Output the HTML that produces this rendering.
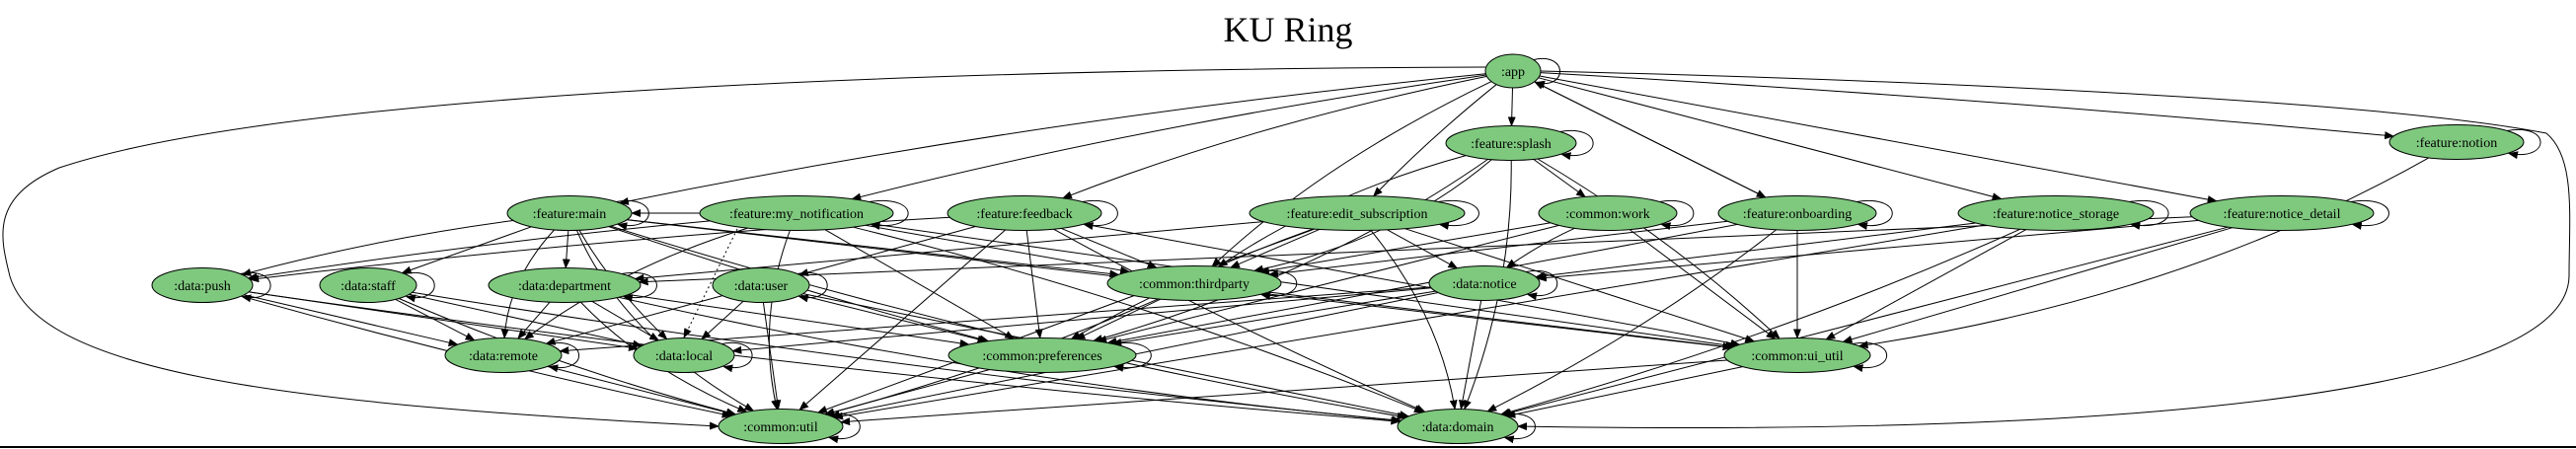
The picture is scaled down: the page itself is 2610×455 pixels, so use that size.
<!DOCTYPE html>
<html><head><meta charset="utf-8"><style>
html,body{margin:0;padding:0;background:#fff;}
svg{display:block;}
text{font-family:"Liberation Serif",serif;}
</style></head><body>
<svg id="s" width="2610" height="455" viewBox="0 0 2610 455" xmlns="http://www.w3.org/2000/svg">
<defs><marker id="a" markerWidth="10" markerHeight="8" refX="9" refY="4" orient="auto" markerUnits="userSpaceOnUse"><path d="M0,0 L10,4 L0,8 z" fill="#000"/></marker></defs>
<rect width="2610" height="455" fill="#fff"/>
<text x="1305" y="42" font-size="36" text-anchor="middle">KU Ring</text>
<g id="edges" fill="none" stroke="#000" stroke-width="1"></g>
<g id="nodes" fill="#7fc97f" stroke="#000" stroke-width="1">
<ellipse cx="1533" cy="72" rx="28" ry="17"/>
<ellipse cx="1531" cy="145" rx="66" ry="17.5"/>
<ellipse cx="577" cy="216" rx="63" ry="17.5"/>
<ellipse cx="807" cy="216" rx="98" ry="17.5"/>
<ellipse cx="1038" cy="216" rx="78" ry="17.5"/>
<ellipse cx="1375" cy="216" rx="109" ry="17.5"/>
<ellipse cx="1629" cy="216" rx="70" ry="17.5"/>
<ellipse cx="1821" cy="216" rx="80" ry="17.5"/>
<ellipse cx="2083" cy="216" rx="99" ry="17.5"/>
<ellipse cx="2312" cy="216" rx="93" ry="17.5"/>
<ellipse cx="2489" cy="144" rx="68" ry="17.5"/>
<ellipse cx="205" cy="289" rx="51" ry="17.5"/>
<ellipse cx="373" cy="289" rx="49" ry="17.5"/>
<ellipse cx="572" cy="289" rx="77" ry="17.5"/>
<ellipse cx="771" cy="289" rx="49" ry="17.5"/>
<ellipse cx="1210" cy="287" rx="88" ry="17.5"/>
<ellipse cx="1504" cy="287" rx="56" ry="17.5"/>
<ellipse cx="510" cy="360" rx="59" ry="17.5"/>
<ellipse cx="693" cy="360" rx="51" ry="17.5"/>
<ellipse cx="1056" cy="360" rx="95" ry="17.5"/>
<ellipse cx="1821" cy="360" rx="74" ry="17.5"/>
<ellipse cx="791" cy="432" rx="63" ry="17.5"/>
<ellipse cx="1477" cy="432" rx="61" ry="17.5"/>
</g>
<g font-size="14" text-anchor="middle" fill="#000">
<text x="1533" y="77">:app</text>
<text x="1531" y="150">:feature:splash</text>
<text x="577" y="221">:feature:main</text>
<text x="807" y="221">:feature:my_notification</text>
<text x="1038" y="221">:feature:feedback</text>
<text x="1375" y="221">:feature:edit_subscription</text>
<text x="1629" y="221">:common:work</text>
<text x="1821" y="221">:feature:onboarding</text>
<text x="2083" y="221">:feature:notice_storage</text>
<text x="2312" y="221">:feature:notice_detail</text>
<text x="2489" y="149">:feature:notion</text>
<text x="205" y="294">:data:push</text>
<text x="373" y="294">:data:staff</text>
<text x="572" y="294">:data:department</text>
<text x="771" y="294">:data:user</text>
<text x="1210" y="292">:common:thirdparty</text>
<text x="1504" y="292">:data:notice</text>
<text x="510" y="365">:data:remote</text>
<text x="693" y="365">:data:local</text>
<text x="1056" y="365">:common:preferences</text>
<text x="1821" y="365">:common:ui_util</text>
<text x="791" y="437">:common:util</text>
<text x="1477" y="437">:data:domain</text>
</g>
<line x1="0" y1="453" x2="2610" y2="453" stroke="#000" stroke-width="2"/>
</svg>
<script>
var N={app:[1533,72,28],splash:[1531,145,66],main:[577,216,63],myn:[807,216,98],fb:[1038,216,78],es:[1375,216,109],work:[1629,216,70],onb:[1821,216,80],ns:[2083,216,99],nd:[2312,216,93],notion:[2489,144,68],push:[205,289,51],staff:[373,289,49],dept:[572,289,77],user:[771,289,49],tp:[1210,287,88],notice:[1504,287,56],remote:[510,360,59],local:[693,360,51],pref:[1056,360,95],ui:[1821,360,74],util:[791,432,63],domain:[1477,432,61]};
var RY=17.5;
function bpt(n,dx,dy){var r=N[n][2];var t=1/Math.sqrt(dx*dx/(r*r)+dy*dy/(RY*RY));return [N[n][0]+dx*t,N[n][1]+dy*t];}
var E=[
['app','main',0.08],['app','myn',0.08],['app','fb',0.12],['app','tp',0.15],['app','es',0.05],['app','splash',0],['app','onb',0],['app','ns',0],['app','nd',0],['app','notion',-0.03],['onb','app',0],
['main','push',0.1],['main','staff',0],['main','dept',0],['main','remote',0.2],['main','local',0.1],['main','util',0.25],['main','tp',0],['main','pref',0.05],['main','ui',0],['main','domain',0.1],
['myn','push',0.05],['myn','tp',0],['myn','pref',0],['myn','util',0.15],['myn','ui',0],['myn','remote',0.2],['myn','domain',-0.1],['myn','main',0],
['fb','user',0],['fb','tp',0],['fb','pref',0],['fb','util',0],['fb','domain',0.05],['fb','ui',0],['fb','push',0.05],
['es','dept',0],['es','tp',0],['es','notice',0],['es','pref',0.1],['es','util',0],['es','domain',-0.15],['es','ui',0],
['splash','tp',0.2],['splash','work',0],['splash','ui',-0.1],['splash','domain',-0.1],['splash','pref',-0.2],['splash','tp',-0.3],
['work','tp',0],['work','ui',0],['work','notice',0.1],['work','pref',0],
['onb','tp',0],['onb','ui',0],['onb','pref',0],['onb','domain',-0.1],
['ns','notice',0],['ns','ui',0],['ns','domain',-0.1],['ns','util',0],
['nd','notice',0],['nd','ui',0],['nd','domain',0],['nd','dept',0],
['notion','ui',-0.25],
['push','remote',0],['push','local',0],['push','util',0.05],['push','domain',0.05],
['staff','remote',0],['staff','local',0],['staff','util',0.1],['staff','domain',0.05],
['dept','remote',0],['dept','local',0],['dept','util',0.2],['dept','domain',0.1],['dept','pref',0],
['user','remote',0],['user','local',0],['user','util',0],['user','pref',0],['user','domain',0],
['notice','remote',0],['notice','local',0],['notice','util',0],['notice','domain',0],['notice','pref',0],
['tp','util',-0.1],['tp','pref',0],['tp','ui',0],
['remote','util',0],['pref','util',0],['ui','domain',0],['ui','util',0]
];
var g=document.getElementById('edges'),ns='http://www.w3.org/2000/svg',h='';
E.forEach(function(e){var a=N[e[0]],b=N[e[1]];var dx=b[0]-a[0],dy=b[1]-a[1];var L=Math.sqrt(dx*dx+dy*dy);
var cx=(a[0]+b[0])/2-dy*e[2],cy=(a[1]+b[1])/2+dx*e[2]*0.3;
var p=bpt(e[0],cx-a[0],cy-a[1]),q=bpt(e[1],cx-b[0],cy-b[1]);
var dash=(e[0]=='myn'&&e[1]=='local')?'':'';
h+='<path d="M'+p[0].toFixed(1)+','+p[1].toFixed(1)+' Q'+cx.toFixed(1)+','+cy.toFixed(1)+' '+q[0].toFixed(1)+','+q[1].toFixed(1)+'" marker-end="url(#a)"/>';});
h+='<path d="M747,232 L693,342" stroke-dasharray="2,3" marker-end="url(#a)"/>';
h+='<path d="M1505,68 C1000,70 300,90 60,170 C-10,200 0,240 10,280 C40,380 300,410 728,432" marker-end="url(#a)"/>';
h+='<path d="M1561,72 C1900,80 2400,100 2580,135 C2610,160 2603,220 2603,280 C2600,420 2000,440 1538,432" marker-end="url(#a)"/>';
for(var k in N){var n=N[k];var x=n[0]+n[2]*0.75,y1=n[1]-RY*0.66,y2=n[1]+RY*0.66;
h+='<path d="M'+x+','+y1+' C'+(n[0]+n[2]+28)+','+(n[1]-RY-2)+' '+(n[0]+n[2]+28)+','+(n[1]+RY+2)+' '+(x+2)+','+y2+'" marker-end="url(#a)"/>';}
g.innerHTML=h;
</script>
</body></html>
